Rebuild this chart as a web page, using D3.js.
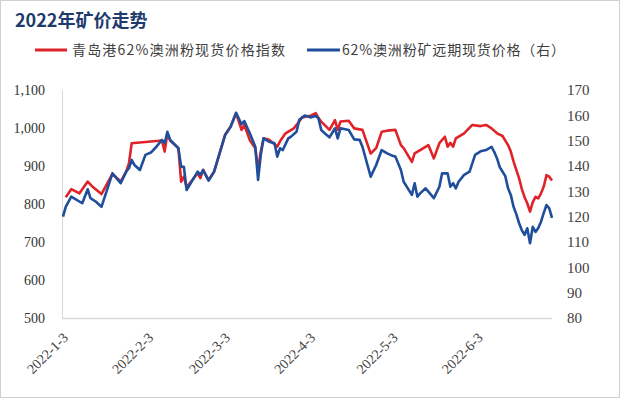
<!DOCTYPE html>
<html><head><meta charset="utf-8">
<script src="https://cdn.jsdelivr.net/npm/d3@7"></script>
<style>html,body{margin:0;padding:0;background:#fff;}svg{display:block;}</style>
</head><body>
<svg id="c" width="620" height="398"></svg>
<script>
const title = "2022年矿价走势";
const seriesNames = ["青岛港62%澳洲粉现货价格指数", "62%澳洲粉矿远期现货价格（右）"];
const xTickDates = ["2022-01-03","2022-02-03","2022-03-03","2022-04-03","2022-05-03","2022-06-03"];
const xTickLabels = ["2022-1-3","2022-2-3","2022-3-3","2022-4-3","2022-5-3","2022-6-3"];
const leftTicks = [500,600,700,800,900,1000,1100];
const rightTicks = [80,90,100,110,120,130,140,150,160,170];
const xDomain = ["2022-01-03","2022-06-30"];

const redDates = ["01-04","01-06","01-09","01-12","01-14","01-17","01-21","01-24","01-26","01-27","01-28",
"02-08","02-09","02-10","02-11","02-14","02-15","02-16","02-17","02-21","02-22","02-23","02-25","02-27",
"03-01","03-03","03-05","03-07","03-09","03-10","03-12","03-14","03-15","03-16","03-17","03-19","03-22","03-23","03-25","03-28","03-30","03-31",
"04-03","04-05","04-06","04-07","04-10","04-12","04-13","04-14","04-17","04-19","04-22","04-25","04-27","04-29",
"05-01","05-04","05-06","05-07","05-10","05-11","05-13","05-16","05-18","05-20","05-22","05-23","05-24","05-25","05-26","05-29",
"06-01","06-04","06-06","06-08","06-10","06-12","06-14","06-15","06-16","06-17","06-18","06-19","06-20","06-21","06-22","06-23","06-24","06-25","06-26","06-27","06-28","06-29","06-30"];
const redValues = [818,839,828,859,844,826,879,859,885,907,960,
967,938,986,967,947,859,872,844,881,868,890,863,885,
933,982,1003,1039,995,1008,968,947,890,938,973,969,951,965,986,999,1017,1028,
1032,1039,1026,1017,995,1021,995,1017,1019,999,995,933,947,990,
993,995,955,947,911,933,942,955,920,960,977,951,961,951,973,986,
1008,1005,1008,999,986,979,955,938,912,890,868,840,818,802,780,805,819,815,828,846,876,872,862];

const blueDates = ["01-03","01-04","01-06","01-10","01-12","01-13","01-15","01-17","01-19","01-21","01-24","01-26","01-27","01-28","01-29","01-31",
"02-02","02-04","02-06","02-08","02-09","02-10","02-11","02-14","02-15","02-16","02-17","02-21","02-22","02-23","02-25","02-27",
"03-01","03-03","03-05","03-07","03-09","03-10","03-12","03-14","03-15","03-16","03-17","03-19","03-21","03-22","03-23","03-24","03-26","03-27","03-29","03-30",
"04-01","04-03","04-05","04-06","04-07","04-09","04-10","04-12","04-13","04-14","04-17","04-19","04-21","04-22","04-25","04-27","04-29",
"05-01","05-03","05-04","05-06","05-07","05-10","05-11","05-12","05-13","05-15","05-18","05-20","05-21","05-23","05-24","05-25","05-26","05-27","05-29","05-31",
"06-02","06-04","06-06","06-08","06-09","06-10","06-11","06-13","06-14","06-15","06-16","06-17","06-18","06-19","06-20","06-21","06-22","06-23","06-24","06-25","06-26","06-27","06-28","06-29","06-30"];
const blueValues = [120.0,123.9,127.9,125.3,130.8,127.3,125.9,123.9,130.5,137.1,133.2,137.8,139.1,142.4,140.4,138.4,
144.4,145.3,147.6,150.3,149.0,153.5,150.3,147.0,139.7,139.7,130.5,137.8,136.5,138.4,134.2,137.8,
145.0,152.2,155.5,161.0,156.5,157.7,152.9,147.6,134.5,144.4,150.9,149.6,149.0,143.7,147.0,146.3,150.9,151.6,153.5,158.2,
159.9,159.2,159.7,158.8,154.2,152.2,151.3,154.9,150.9,154.9,154.2,150.5,150.3,147.6,135.8,140.4,146.3,
145.0,144.0,143.7,138.4,133.8,128.6,133.2,127.9,129.2,131.2,127.3,131.8,137.1,137.1,131.8,133.2,131.2,133.8,136.5,137.8,
144.4,145.8,146.3,147.6,145.5,143.0,139.5,136.0,131.2,128.6,123.9,121.0,117.5,114.7,112.8,115.4,109.5,116.0,114.0,115.5,118.0,121.5,124.6,123.3,119.5];

const colors = ["#E02328", "#1F4E9C"];
const parse = d3.timeParse("%Y-%m-%d");
const svg = d3.select("#c");

svg.append("rect").attr("x",0.5).attr("y",0.5).attr("width",619).attr("height",397)
  .attr("fill","#fff").attr("stroke","#d0d0d0");

const x = d3.scaleTime().domain(xDomain.map(parse)).range([63, 552]);
const yL = d3.scaleLinear().domain([500,1100]).range([318, 90]);
const yR = d3.scaleLinear().domain([80,170]).range([318, 90]);

// axes lines
svg.append("line").attr("x1",62.5).attr("x2",62.5).attr("y1",90).attr("y2",318).attr("stroke","#d9d9d9").attr("stroke-width",1);
svg.append("line").attr("x1",62).attr("x2",552).attr("y1",318.5).attr("y2",318.5).attr("stroke","#d9d9d9").attr("stroke-width",1.5);

const serif = "'Liberation Serif','Times New Roman',serif";
const cjk = "'Noto Sans CJK SC','Noto Sans CJK JP',sans-serif";

// left axis
const gl = svg.append("g").attr("transform","translate(45,0)")
  .call(d3.axisLeft(yL).tickValues(leftTicks).tickFormat(d3.format(",")).tickSize(0).tickPadding(0));
gl.select(".domain").remove();
gl.selectAll("text").attr("font-family",serif).attr("font-size",14).attr("fill","#333");

// right axis
const gr = svg.append("g").attr("transform","translate(567,0)")
  .call(d3.axisRight(yR).tickValues(rightTicks).tickSize(0).tickPadding(0));
gr.select(".domain").remove();
gr.selectAll("text").attr("font-family",serif).attr("font-size",15).attr("fill","#404040");

// x axis labels
const gx = svg.append("g").attr("transform","translate(0,318)")
  .call(d3.axisBottom(x).tickValues(xTickDates.map(parse)).tickFormat((d,i)=>xTickLabels[i]).tickSize(0));
gx.select(".domain").remove();
gx.selectAll("text")
  .attr("font-family",serif).attr("font-size",14).attr("fill","#404040")
  .attr("text-anchor","end").attr("y",0).attr("dy","0.35em")
  .attr("transform","translate(2,17) rotate(-45)");

// lines
const redData = redDates.map((d,i)=>({date:parse("2022-"+d), v:redValues[i]}));
const blueData = blueDates.map((d,i)=>({date:parse("2022-"+d), v:blueValues[i]}));
svg.append("path").datum(redData).attr("fill","none").attr("stroke",colors[0]).attr("stroke-width",2.6)
  .attr("stroke-linejoin","round")
  .attr("d", d3.line().x(d=>x(d.date)).y(d=>yL(d.v)));
svg.append("path").datum(blueData).attr("fill","none").attr("stroke",colors[1]).attr("stroke-width",2.6)
  .attr("stroke-linejoin","round")
  .attr("d", d3.line().x(d=>x(d.date)).y(d=>yR(d.v)));

// title
svg.append("text").attr("x",15).attr("y",27).text(title)
  .attr("font-family",cjk).attr("font-weight","bold").attr("font-size",18).attr("fill","#1F3B6E");

// legend
const leg = [{x1:35,x2:67,tx:72,w:213},{x1:307,x2:340,tx:342,w:223}];
leg.forEach((l,i)=>{
  svg.append("line").attr("x1",l.x1).attr("x2",l.x2).attr("y1",50).attr("y2",50)
    .attr("stroke",colors[i]).attr("stroke-width",3);
  svg.append("text").attr("x",l.tx).attr("y",55).text(seriesNames[i])
    .attr("font-family",cjk).attr("font-size",14).attr("fill","#404040")
    .attr("textLength",l.w).attr("lengthAdjust","spacing");
});
</script>
</body></html>
